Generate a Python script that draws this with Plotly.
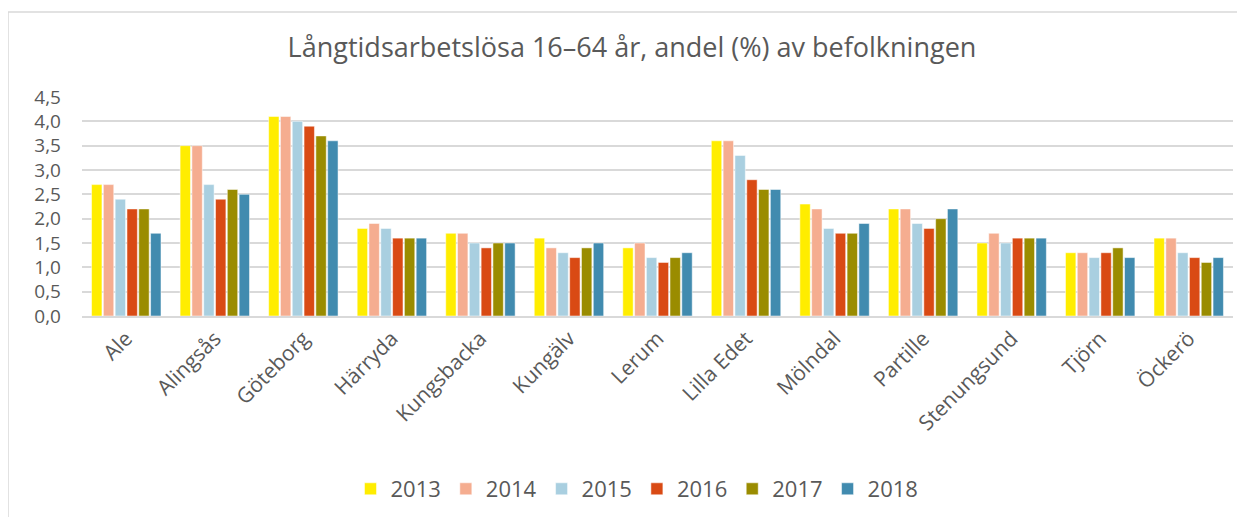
import plotly.graph_objects as go

categories = ["Ale", "Alingsås", "Göteborg", "Härryda", "Kungsbacka", "Kungälv", "Lerum",
              "Lilla Edet", "Mölndal", "Partille", "Stenungsund", "Tjörn", "Öckerö"]
years = ["2013", "2014", "2015", "2016", "2017", "2018"]
v2013 = [2.7, 3.5, 4.1, 1.8, 1.7, 1.6, 1.4, 3.6, 2.3, 2.2, 1.5, 1.3, 1.6]
v2014 = [2.7, 3.5, 4.1, 1.9, 1.7, 1.4, 1.5, 3.6, 2.2, 2.2, 1.7, 1.3, 1.6]
v2015 = [2.4, 2.7, 4.0, 1.8, 1.5, 1.3, 1.2, 3.3, 1.8, 1.9, 1.5, 1.2, 1.3]
v2016 = [2.2, 2.4, 3.9, 1.6, 1.4, 1.2, 1.1, 2.8, 1.7, 1.8, 1.6, 1.3, 1.2]
v2017 = [2.2, 2.6, 3.7, 1.6, 1.5, 1.4, 1.2, 2.6, 1.7, 2.0, 1.6, 1.4, 1.1]
v2018 = [1.7, 2.5, 3.6, 1.6, 1.5, 1.5, 1.3, 2.6, 1.9, 2.2, 1.6, 1.2, 1.2]
series = [v2013, v2014, v2015, v2016, v2017, v2018]
colors = ["#FFED00", "#F5AD90", "#A9CFE0", "#D94A14", "#9A8C00", "#418BAF"]

fig = go.Figure()
for y, vals, c in zip(years, series, colors):
    fig.add_trace(go.Bar(name=y, x=categories, y=vals,
                         marker=dict(color=c, line=dict(color="white", width=0.5))))

# page has an 8px body margin: figure origin sits at page (8, 8)
OFF = 8
W, H = 1245 - OFF, 517 - OFF
L, R, T, B = 82 - OFF, 20 - OFF, 97 - OFF, 517 - 316
pw, ph = W - L - R, H - T - B

def px(xpage):
    return (xpage - OFF - L) / pw

def py(ypage):
    return (H - B - (ypage - OFF)) / ph

def cx(xpage):
    return (xpage - OFF) / W

def cy(ypage):
    return 1 - (ypage - OFF) / H

FONT = "Open Sans, Liberation Sans, Arial, sans-serif"
fig.update_layout(
    width=W, height=H,
    margin=dict(l=L, r=R, t=T, b=B, autoexpand=False),
    paper_bgcolor="white", plot_bgcolor="white",
    separators=",.",
    font=dict(family=FONT, color="#595959"),
    title=dict(text="Långtidsarbetslösa 16–64 år, andel (%) av befolkningen",
               x=cx(632), xref="container", xanchor="center", y=cy(48), yref="container",
               yanchor="middle", font=dict(size=27, color="#595959")),
    barmode="group", bargap=0.2, bargroupgap=0.12,
    legend=dict(orientation="h", x=cx(637), xref="container", xanchor="center",
                y=cy(489), yref="container", yanchor="middle",
                font=dict(size=22, color="#595959"), traceorder="normal"),
    xaxis=dict(tickangle=-45, tickfont=dict(size=21, color="#595959"), showline=True,
               linecolor="#d9d9d9", linewidth=2, ticks="", automargin=False),
    yaxis=dict(range=[0, 4.5], dtick=0.5, tickformat=".1f", showgrid=True, gridcolor="#d9d9d9",
               gridwidth=2, tickfont=dict(size=19, color="#595959"), zeroline=False, ticks="",
               ticklabelstandoff=20, automargin=False),
    shapes=[dict(type="rect", xref="paper", yref="paper", x0=px(8), x1=px(1300), y0=py(560), y1=py(12),
                 line=dict(color="#d9d9d9", width=1.5), layer="below")],
)
fig.write_html("out.html")
